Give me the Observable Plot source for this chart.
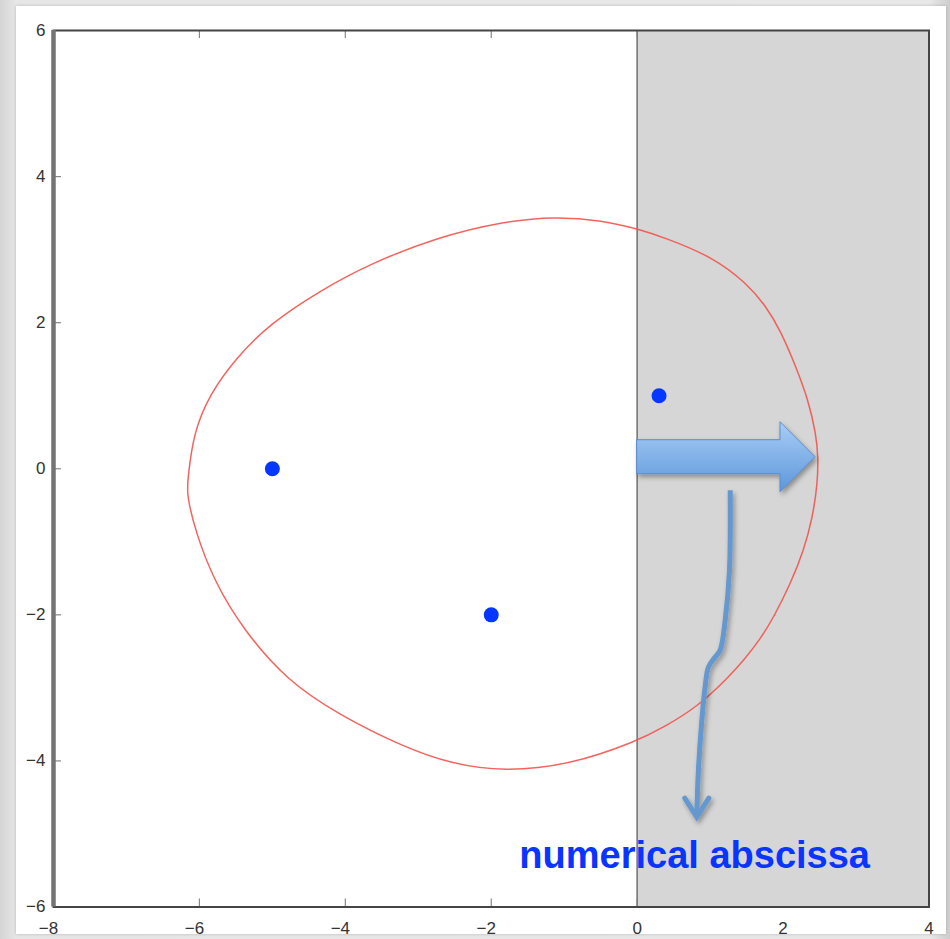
<!DOCTYPE html>
<html>
<head>
<meta charset="utf-8">
<script src="https://cdn.jsdelivr.net/npm/d3@7"></script>
<script src="https://cdn.jsdelivr.net/npm/@observablehq/plot@0.6"></script>
<style>
  html, body { margin: 0; padding: 0; width: 950px; height: 939px; overflow: hidden; }
  body {
    position: relative;
    background: linear-gradient(to right, #d4d4d4 0px, #e6e6e6 16px, #e8e8e8 930px, #cdcdcd 950px);
    font-family: "Liberation Sans", Arial, Helvetica, sans-serif;
  }
  #panel { position: absolute; left: 16px; top: 6px; width: 930px; height: 928px; background: #fff; box-shadow: 0 0 3px rgba(0,0,0,0.2); }
  #chart { position: absolute; left: 0; top: 0; }
</style>
</head>
<body>
<div id="panel"></div>
<div id="chart"></div>
<script>
// ---- data ----
const xTicks = [-8, -6, -4, -2, 0, 2, 4];
const yTicks = [-6, -4, -2, 0, 2, 4, 6];
const innerXTicks = [-6, -4, -2, 0, 2];
const innerYTicks = [-4, -2, 0, 2, 4];

// poles (blue dots)
const poleX = [-5, -2, 0.3];
const poleY = [0, -2, 1];

// red closed contour
const curveX = [-6.175, -6.160, -6.085, -5.855, -5.490, -5.030, -4.345, -3.656, -2.742, -1.833,
                -1.147, -0.462, 0.000, 0.361, 1.046, 1.508, 1.759, 1.964, 2.170, 2.348,
                2.450, 2.482, 2.472, 2.405, 2.284, 2.101, 1.873, 1.676, 1.457, 1.252,
                0.822, 0.365, 0.000, -0.914, -1.829, -2.550, -3.199, -4.112, -4.798, -5.393,
                -5.804, -6.060];
const curveY = [-0.339, -0.161, 0.483, 1.030, 1.527, 1.988, 2.440, 2.810, 3.170, 3.385,
                3.455, 3.400, 3.285, 3.170, 2.896, 2.532, 2.235, 1.893, 1.413, 0.934,
                0.483, 0.158, -0.202, -0.663, -1.119, -1.575, -2.032, -2.351, -2.625, -2.854,
                -3.264, -3.538, -3.730, -4.055, -4.145, -4.040, -3.812, -3.355, -2.899, -2.214,
                -1.530, -0.845];

// shaded half-plane (Re > 0)
const shadeX = [0, 4];
const shadeY = [-6, 6];

// annotation: block arrow (from, to) and callout path
const arrowFrom = [0, 0.158];
const arrowTo = [2.444, 0.158];
const calloutX = [1.282, 1.272, 1.213, 1.144, 1.076, 0.984, 0.938, 0.893, 0.846, 0.824];
const calloutY = [-0.301, -1.397, -2.082, -2.493, -2.585, -2.722, -2.996, -3.452, -4.137, -4.777];
const labelText = ["numerical abscissa"];
const labelX = [0.788];
const labelY = [-5.306];

// ---- tables built from the arrays ----
const poles = poleX.map((x, i) => ({x, y: poleY[i]}));
const contour = curveX.map((x, i) => ({x, y: curveY[i]}));
const shade = [{x1: shadeX[0], x2: shadeX[1], y1: shadeY[0], y2: shadeY[1]}];
const callout = calloutX.map((x, i) => ({x, y: calloutY[i]}));
const labels = labelText.map((t, i) => ({t, x: labelX[i], y: labelY[i]}));

const W = 950, H = 939;
const mL = 53, mR = 21.5, mT = 30, mB = 32.5;
const frameW = W - mL - mR, frameH = H - mT - mB;
const tickLen = 8;
const fmt = d3.format("d");

function blockArrow(index, scales) {
  const x = scales.x, y = scales.y;
  const x0 = x(arrowFrom[0]), x1 = x(arrowTo[0]), yc = y(arrowFrom[1]);
  const headLen = 35, shaftH = 17, headH = 35;
  const xb = x1 - headLen;
  const g = d3.create("svg:g");
  const defs = g.append("defs");
  const grad = defs.append("linearGradient").attr("id", "arrowGrad")
    .attr("x1", 0).attr("y1", 0).attr("x2", 0).attr("y2", 1);
  grad.append("stop").attr("offset", "0%").attr("stop-color", "#a9cdf7");
  grad.append("stop").attr("offset", "100%").attr("stop-color", "#5d97da");
  const f = defs.append("filter").attr("id", "shadow").attr("x", "-20%").attr("y", "-20%").attr("width", "140%").attr("height", "160%");
  f.append("feDropShadow").attr("dx", 2).attr("dy", 3).attr("stdDeviation", 2.5).attr("flood-color", "#000").attr("flood-opacity", 0.35);
  const pts = [[x0, yc - shaftH], [xb, yc - shaftH], [xb, yc - headH], [x1, yc],
               [xb, yc + headH], [xb, yc + shaftH], [x0, yc + shaftH]];
  g.append("path")
    .attr("d", "M" + pts.map(p => p.join(",")).join("L") + "Z")
    .attr("fill", "url(#arrowGrad)")
    .attr("stroke", "#5b8ccc")
    .attr("stroke-width", 1)
    .attr("filter", "url(#shadow)");
  return g.node();
}

function calloutArrow(index, scales) {
  const x = scales.x, y = scales.y;
  const pts = callout.map(d => [x(d.x), y(d.y)]);
  const g = d3.create("svg:g").attr("filter", "url(#shadow)");
  const line = d3.line().curve(d3.curveCatmullRom.alpha(0.5));
  g.append("path").attr("d", line(pts))
    .attr("fill", "none").attr("stroke", "#6598cf").attr("stroke-width", 5)
    .attr("stroke-linecap", "butt");
  const tip = pts[pts.length - 1];
  g.append("path")
    .attr("d", `M${tip[0] - 12},${tip[1] - 19}L${tip[0]},${tip[1]}L${tip[0] + 12},${tip[1] - 19}`)
    .attr("fill", "none").attr("stroke", "#6598cf").attr("stroke-width", 5)
    .attr("stroke-linecap", "round").attr("stroke-linejoin", "miter");
  return g.node();
}

const plot = Plot.plot({
  width: W,
  height: H,
  marginLeft: mL,
  marginRight: mR,
  marginTop: mT,
  marginBottom: mB,
  style: {background: "transparent", fontFamily: "'Liberation Sans', Arial, Helvetica, sans-serif", color: "#333"},
  x: {domain: [-8, 4]},
  y: {domain: [-6, 6]},
  marks: [
    // inward ticks
    Plot.ruleX(innerXTicks, {stroke: "#888", strokeWidth: 1.2, insetTop: frameH - tickLen}),
    Plot.ruleX(innerXTicks, {stroke: "#888", strokeWidth: 1.2, insetBottom: frameH - tickLen}),
    Plot.ruleY(innerYTicks, {stroke: "#888", strokeWidth: 1.2, insetRight: frameW - tickLen}),
    // shaded right half-plane
    Plot.rect(shade, {x1: "x1", x2: "x2", y1: "y1", y2: "y2", fill: "#d6d6d6"}),
    Plot.ruleX([shadeX[0]], {stroke: "#7a7a7a", strokeWidth: 1.6}),
    // contour
    Plot.line(contour, {x: "x", y: "y", curve: "basis-closed", stroke: "#f4524d", strokeWidth: 1.5, strokeOpacity: 0.9}),
    // poles
    Plot.dot(poles, {x: "x", y: "y", r: 7.5, fill: "#0636ff", stroke: null}),
    // frame
    Plot.frame({stroke: "#454545", strokeWidth: 2}),
    Plot.ruleX([xTicks[0]], {stroke: "#747474", strokeWidth: 4.5}),
    // axes labels
    Plot.axisX(xTicks, {anchor: "bottom", tickSize: 0, tickPadding: 15, fontSize: 17, fill: "#333", textAnchor: "end", dx: 4.7, tickFormat: fmt}),
    Plot.axisY(yTicks, {anchor: "left", tickSize: 0, tickPadding: 8, fontSize: 17, fill: "#333", tickFormat: fmt}),
    // annotations
    blockArrow,
    calloutArrow,
    Plot.text(labels, {x: "x", y: "y", text: "t", fontSize: 38, fontWeight: "bold", fill: "#0a34ff", textAnchor: "middle", lineAnchor: "middle",
      fontFamily: "'Liberation Sans', Arial, Helvetica, sans-serif"})
  ]
});
document.getElementById("chart").appendChild(plot);
</script>
</body>
</html>
